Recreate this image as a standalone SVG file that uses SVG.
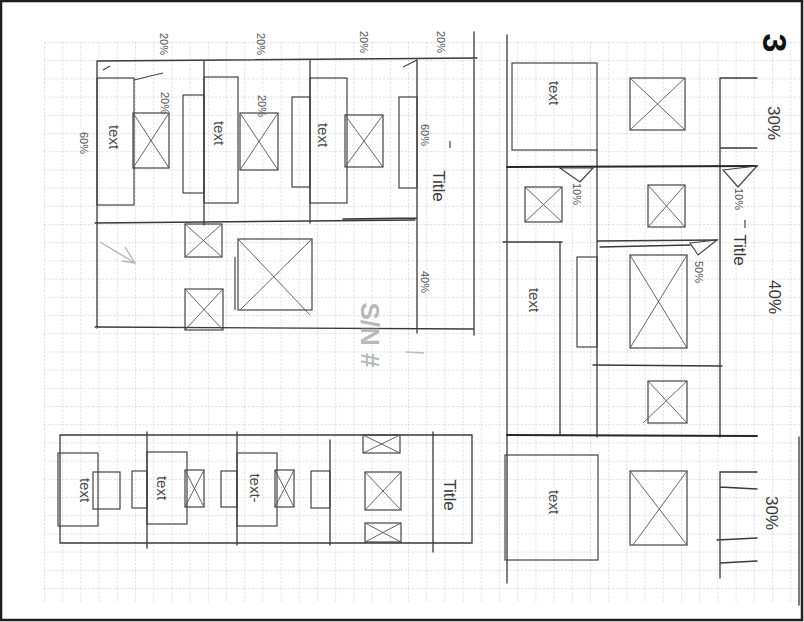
<svg xmlns="http://www.w3.org/2000/svg" width="804" height="622" viewBox="0 0 804 622">
<defs>
<pattern id="grid" x="44" y="42" width="18.2" height="18.2" patternUnits="userSpaceOnUse">
<path d="M0,0.5 H18.2 M0.5,0 V18.2" stroke="#d6d6d6" stroke-width="0.8" stroke-dasharray="2,1.8" fill="none"/>
</pattern>
<style>
.l{stroke:#3a3a3a;stroke-width:1.3;fill:none;stroke-linecap:round}
.t{stroke:#262626;stroke-width:1.8;fill:none;stroke-linecap:round}
.b{stroke:#444;stroke-width:1.2;fill:none}
.x{stroke:#555;stroke-width:0.9;fill:none}
.txt{font-family:"Liberation Sans",Arial,sans-serif;fill:#4a4a4a;font-size:15px;text-anchor:middle;dominant-baseline:middle}
.pct{font-family:"Liberation Sans",Arial,sans-serif;fill:#555;font-size:11px;text-anchor:middle;dominant-baseline:middle}
.ttl{font-family:"Liberation Sans",Arial,sans-serif;fill:#3a3a3a;font-size:17px;text-anchor:middle;dominant-baseline:middle}
</style>
</defs>
<rect x="0" y="0" width="804" height="622" fill="#ffffff"/>
<rect x="44" y="42" width="756" height="560" fill="url(#grid)"/>
<rect x="1" y="1" width="801" height="619" fill="none" stroke="#1e1e1e" stroke-width="2.5"/>

<g id="top-left-layout">
<path class="l" d="M97,61 L477,58 M97,61 V328 M204,60 V225 M310,60 V223 M417,60 V333 M474,32 V335 M95,223 L415,220 M343,219 L417,218 M95,327 L473,329"/>
<path class="b" d="M134,80 L163,73 M403,67 L417,60 M103,70 L110,66"/>
<rect class="b" x="97" y="78" width="37" height="127"/>
<rect class="b" x="183" y="95" width="21" height="98"/>
<rect class="b" x="204" y="77" width="34" height="126"/>
<rect class="b" x="292" y="97" width="18" height="90"/>
<rect class="b" x="310" y="78" width="37" height="125"/>
<rect class="b" x="399" y="97" width="18" height="91"/>
<g><rect class="b" x="133" y="113" width="36" height="55"/><path class="x" d="M133,113 L169,168 M169,113 L133,168"/></g>
<g><rect class="b" x="240" y="113" width="38" height="57"/><path class="x" d="M240,113 L278,170 M278,113 L240,170"/></g>
<g><rect class="b" x="345" y="115" width="38" height="52"/><path class="x" d="M345,115 L383,167 M383,115 L345,167"/></g>
<g><rect class="b" x="185" y="224" width="37" height="33"/><path class="x" d="M185,224 L222,257 M222,224 L185,257"/></g>
<g><rect class="b" x="185" y="289" width="38" height="41"/><path class="x" d="M185,289 L223,330 M223,289 L185,330"/></g>
<g><rect class="b" x="238" y="239" width="74" height="71"/><path class="x" d="M238,239 L310,315 M312,239 L240,310"/></g>
<path class="b" d="M235,257 V310"/>
<path d="M100,242 L135,263 M125,247 L135,263 L122,261" stroke="#b5b5b5" stroke-width="1.4" fill="none"/>
<text class="txt" transform="translate(113,137) rotate(90)">text</text>
<text class="txt" transform="translate(218,133) rotate(90)">text</text>
<text class="txt" transform="translate(322,135) rotate(90)">text</text>
<text class="pct" transform="translate(163,44) rotate(90)">20%</text>
<text class="pct" transform="translate(260,44) rotate(90)">20%</text>
<text class="pct" transform="translate(363,42) rotate(90)">20%</text>
<text class="pct" transform="translate(440,42) rotate(90)">20%</text>
<text class="pct" transform="translate(164,103) rotate(90)">20%</text>
<text class="pct" transform="translate(261,106) rotate(90)">20%</text>
<text class="pct" transform="translate(83,143) rotate(90)">60%</text>
<text class="pct" transform="translate(424,135) rotate(90)">60%</text>
<text class="pct" transform="translate(424,282) rotate(90)">40%</text>
<path class="b" d="M450,141 V148"/>
<text class="ttl" transform="translate(437,186) rotate(90)">Title</text>
<text transform="translate(368,335) rotate(90)" font-family="Liberation Sans, Arial, sans-serif" font-size="26" font-weight="bold" fill="#b8b8b8" text-anchor="middle" dominant-baseline="middle">S/N #</text>
<path d="M406,352 L424,353" stroke="#bbb" stroke-width="1.5"/>
</g>

<g id="bottom-left-layout">
<path class="l" d="M60,435 L472,435 L472,543 L60,543 Z M147,432 V548 M237,432 V545 M330,440 V545 M433,432 V552"/>
<rect class="b" x="58" y="453" width="40" height="73"/>
<rect class="b" x="93" y="472" width="27" height="37"/>
<rect class="b" x="132" y="471" width="15" height="37"/>
<rect class="b" x="147" y="452" width="40" height="72"/>
<rect class="b" x="221" y="471" width="16" height="36"/>
<rect class="b" x="237" y="453" width="40" height="73"/>
<rect class="b" x="311" y="471" width="19" height="37"/>
<g><rect class="b" x="185" y="470" width="19" height="37"/><path class="x" d="M185,470 L204,507 M204,470 L185,507"/></g>
<g><rect class="b" x="275" y="470" width="19" height="37"/><path class="x" d="M275,470 L294,507 M294,470 L275,507"/></g>
<g><rect class="b" x="363" y="435" width="37" height="18"/><path class="x" d="M363,435 L400,453 M400,435 L363,453"/></g>
<g><rect class="b" x="365" y="472" width="36" height="38"/><path class="x" d="M365,472 L401,510 M401,472 L365,510"/></g>
<g><rect class="b" x="365" y="523" width="36" height="19"/><path class="x" d="M365,523 L401,542 M401,523 L365,542"/></g>
<text class="txt" transform="translate(84,490) rotate(90)">text</text>
<text class="txt" transform="translate(161,488) rotate(90)">text</text>
<text class="txt" transform="translate(254,488) rotate(90)">text-</text>
<text class="ttl" transform="translate(448,495) rotate(90)">Title</text>
</g>

<g id="right-layout">
<path class="l" d="M507,35 V583 M597,150 V437 M720,78 V437 M560,242 V435 M757,78 H720 M720,148 H757 M503,242 H562 M597,241 L717,240 M600,247 L690,245 M593,365 L722,366"/>
<path class="t" d="M507,167 L757,166 M507,435 L757,436"/>
<path class="l" d="M757,472 H720 V578 M720,487 L757,489 M717,540 L757,538 M720,563 L757,561"/>
<path class="b" d="M560,168 L593,168 L580,182 Z M723,170 L757,166 L738,187 Z M690,243 L717,240 L698,255 Z"/>
<rect class="b" x="512" y="63" width="85" height="87"/>
<rect class="b" x="577" y="257" width="20" height="90"/>
<rect class="b" x="505" y="455" width="93" height="105"/>
<g><rect class="b" x="630" y="78" width="55" height="52"/><path class="x" d="M630,78 L685,130 M685,78 L630,130"/></g>
<g><rect class="b" x="525" y="187" width="37" height="35"/><path class="x" d="M525,187 L562,222 M562,187 L525,222"/></g>
<g><rect class="b" x="648" y="185" width="37" height="42"/><path class="x" d="M648,185 L685,227 M685,185 L648,227"/></g>
<g><rect class="b" x="630" y="255" width="57" height="93"/><path class="x" d="M630,255 L687,348 M687,255 L630,348"/></g>
<g><rect class="b" x="648" y="381" width="39" height="42"/><path class="x" d="M648,381 L687,423 M687,381 L643,423"/></g>
<g><rect class="b" x="630" y="471" width="57" height="74"/><path class="x" d="M630,471 L687,545 M687,471 L633,545"/></g>
<text class="txt" transform="translate(553,93) rotate(90)">text</text>
<text class="txt" transform="translate(533,300) rotate(90)">text</text>
<text class="txt" transform="translate(553,502) rotate(90)">text</text>
<text class="pct" transform="translate(576,194) rotate(90)">10%</text>
<text class="pct" transform="translate(738,199) rotate(90)">10%</text>
<text class="pct" transform="translate(698,272) rotate(90)">50%</text>
<text class="ttl" transform="translate(738,250) rotate(90)">Title</text>
<path class="b" d="M745,220 L745,228"/>
<text class="ttl" font-size="15" transform="translate(772,123) rotate(90)">30%</text>
<text class="ttl" font-size="15" transform="translate(773,297) rotate(90)">40%</text>
<text class="ttl" font-size="15" transform="translate(770,513) rotate(90)">30%</text>
<path class="l" d="M799,437 V605"/>
<text transform="translate(772,43) rotate(90)" font-family="Liberation Sans, Arial, sans-serif" font-size="34" font-weight="bold" fill="#111" text-anchor="middle" dominant-baseline="middle">3</text>
</g>
</svg>
